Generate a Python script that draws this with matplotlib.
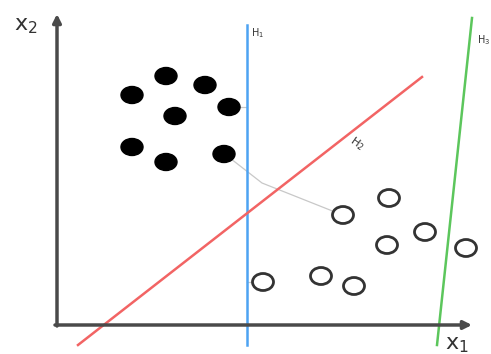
import numpy as np
import matplotlib.pyplot as plt
from matplotlib.patches import Ellipse

# data in picture units (x to the right, y downwards)
black_x = [132, 166, 205, 229, 175, 132, 166, 224]
black_y = [95, 76, 85, 107, 116, 147, 162, 154]
open_x = [263, 321, 354, 343, 389, 387, 425, 466]
open_y = [282, 276, 286, 215, 198, 245, 232, 248]

h1_x = [247, 247]
h1_y = [25, 345]
h2_x = [78, 422]
h2_y = [345, 77]
h3_x = [472, 437]
h3_y = [18, 345]

# margin links from support points to the hyperplanes
link1_x = [229, 247]
link1_y = [107, 107]
link2_x = [226, 262, 340]
link2_y = [155, 183, 214]
link3_x = [247, 263]
link3_y = [282, 282]

fig = plt.figure(figsize=(4.91, 3.54), dpi=100)
ax = fig.add_axes([0, 0, 1, 1])
ax.set_xlim(0, 491)
ax.set_ylim(354, 0)
ax.axis("off")

#axes arrows
ax.annotate("", xy=(57, 14), xytext=(57, 326),
            arrowprops=dict(arrowstyle="-|>", color="#4a4a4a", lw=2.5,
                            mutation_scale=12, shrinkA=0, shrinkB=0))
ax.annotate("", xy=(472, 325), xytext=(55, 325),
            arrowprops=dict(arrowstyle="-|>", color="#4a4a4a", lw=2.5,
                            mutation_scale=12, shrinkA=0, shrinkB=0))

#thin gray links
for lx, ly in [(link1_x, link1_y), (link2_x, link2_y), (link3_x, link3_y)]:
    ax.plot(lx, ly, color="#c8c8c8", lw=0.9, zorder=1)

#hyperplanes
ax.plot(h1_x, h1_y, color="#4da3f2", lw=1.8, zorder=2)
ax.plot(h2_x, h2_y, color="#f26464", lw=1.8, zorder=2)
ax.plot(h3_x, h3_y, color="#5cc65c", lw=1.8, zorder=2)

#points
for px, py in zip(black_x, black_y):
    ax.add_patch(Ellipse((px, py), 22, 17, color="black", zorder=3))
for px, py in zip(open_x, open_y):
    ax.add_patch(Ellipse((px, py), 21, 17, facecolor="white",
                         edgecolor="#333333", linewidth=2, zorder=3))

#labels
ax.text(14, 30, r"$\mathrm{x}_2$", fontsize=16, color="#333333")
ax.text(445, 349, r"$\mathrm{x}_1$", fontsize=16, color="#333333")
ax.text(251, 36, r"$\mathrm{H}_1$", fontsize=7, color="#333333")
ax.text(477, 43, r"$\mathrm{H}_3$", fontsize=7, color="#333333")
ax.text(347, 150, r"$\mathrm{H}_2$", fontsize=8, color="#333333", rotation=-35)

fig.savefig("out.png", dpi=100)
